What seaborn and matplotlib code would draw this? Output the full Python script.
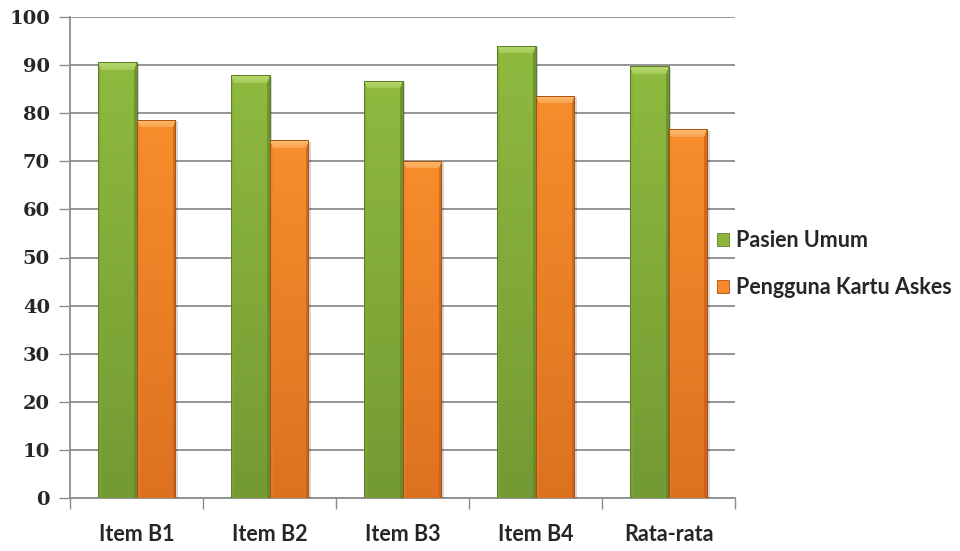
import numpy as np
import pandas as pd
import matplotlib
matplotlib.use("Agg")
import matplotlib.pyplot as plt
import seaborn as sns
from matplotlib.colors import to_rgb
from matplotlib.patches import Patch, Rectangle

categories = ["Item B1", "Item B2", "Item B3", "Item B4", "Rata-rata"]
series_names = ["Pasien Umum", "Pengguna Kartu Askes"]
pasien_umum = [90.6, 87.9, 86.7, 94.0, 89.8]
pengguna_askes = [78.6, 74.4, 70.1, 83.6, 76.7]
y_ticks = [0, 10, 20, 30, 40, 50, 60, 70, 80, 90, 100]

df = pd.DataFrame({
    "kategori": categories * 2,
    "seri": [series_names[0]] * len(categories) + [series_names[1]] * len(categories),
    "nilai": pasien_umum + pengguna_askes,
})

base_colors = {series_names[0]: "#8CB63C", series_names[1]: "#F68A2A"}
# face top, face bottom, top bevel, left bevel, right bevel, outline
styles = {
    series_names[0]: ["#8FBA3F", "#739A33", "#B8DB70", "#83AB39", "#62852A", "#5A7A26"],
    series_names[1]: ["#F88D2C", "#DC7220", "#FDBC72", "#EA7F25", "#C45F16", "#A9520F"],
}

sns.set_theme(style="white")
fig = plt.figure(figsize=(9.6, 5.51), dpi=100)
ax = fig.add_axes([70 / 960, 1 - 498 / 551, 665 / 960, 481 / 551])

sns.barplot(data=df, x="kategori", y="nilai", hue="seri", order=categories,
            hue_order=series_names, palette=base_colors, width=0.58,
            saturation=1, legend=False, ax=ax, zorder=3)

ax.set_ylim(0, 100)
ax.set_xlim(-0.5, len(categories) - 0.5)
ax.set_yticks(y_ticks)
ax.set_yticklabels([str(v) for v in y_ticks], fontfamily="DejaVu Serif",
                   fontweight="bold", fontsize=14)
ax.set_xlabel("")
ax.set_ylabel("")
ax.set_xticks(np.arange(-0.5, len(categories)), minor=False)
ax.set_xticklabels([])
ax.set_xticks(np.arange(len(categories)), minor=True)
ax.set_xticklabels(categories, minor=True, fontfamily="Lato",
                   fontweight="bold", fontsize=15.5)
ax.tick_params(axis="x", which="major", length=8, width=1, color="#8C8C8C",
               direction="out", bottom=True)
ax.tick_params(axis="x", which="minor", length=0, pad=19)
ax.tick_params(axis="y", length=8, width=1, color="#8C8C8C", direction="out",
               left=True, pad=6.5)

ax.yaxis.grid(True, color="#8C8C8C", linewidth=1.3, zorder=0)
ax.set_axisbelow(True)
for side in ["top", "right"]:
    ax.spines[side].set_visible(False)
for side in ["left", "bottom"]:
    ax.spines[side].set_color("#8C8C8C")
    ax.spines[side].set_linewidth(1.3)

px_per_x = 665 / len(categories)
px_per_y = 481 / 100


def bevel_image(name, wpx, hpx, top_b=8.0, side_b=3.0):
    c = [np.array(to_rgb(v)) for v in styles[name]]
    rows, cols = np.mgrid[0:hpx, 0:wpx] + 0.5
    dt = rows / top_b
    dl = cols / side_b
    dr = (wpx - cols) / side_b
    t = (rows / hpx)[..., None]
    img = c[0] * (1 - t) + c[1] * t
    top = (dt < 1) & (dt <= dl) & (dt <= dr)
    left = (dl < 1) & (dl < dt) & (dl <= dr)
    right = (dr < 1) & (dr < dt) & (dr < dl)
    fade = (rows / top_b)[..., None]
    top_col = c[2] * (1 - 0.5 * fade) + c[0] * (0.5 * fade)
    img = np.where(top[..., None], top_col, img)
    img = np.where(left[..., None], img * 0.5 + c[3] * 0.5, img)
    img = np.where(right[..., None], img * 0.3 + c[4] * 0.7, img)
    return np.clip(img, 0, 1)


bars = list(ax.patches)
n = len(categories)
for i, bar in enumerate(bars):
    name = series_names[0] if i < n else series_names[1]
    x0, y0 = bar.get_x(), bar.get_y()
    w, h = bar.get_width(), bar.get_height()
    # soft drop shadow to the lower right
    ax.add_patch(Rectangle((x0 + 2.5 / px_per_x, y0), w, h - 1.5 / px_per_y,
                           facecolor="#000000", alpha=0.16, edgecolor="none",
                           zorder=2.9, clip_on=False))
    wpx = max(int(round(w * px_per_x)), 4)
    hpx = max(int(round(h * px_per_y)), 4)
    img = bevel_image(name, wpx, hpx)
    im = ax.imshow(img, extent=[x0, x0 + w, y0, y0 + h], origin="upper",
                   aspect="auto", zorder=3.5, interpolation="nearest")
    im.set_clip_path(bar)
    bar.set_edgecolor(styles[name][5])
    bar.set_linewidth(0.7)
    bar.set_zorder(3.6)
    bar.set_facecolor("none")

ax.set_xlim(-0.5, len(categories) - 0.5)
ax.set_ylim(0, 100)

handles = [Patch(facecolor=base_colors[s], edgecolor=styles[s][5], linewidth=0.6)
           for s in series_names]
fig.legend(handles, series_names, loc="center left",
           bbox_to_anchor=(717 / 960, 1 - 264 / 551), frameon=False,
           prop={"family": "Lato", "weight": "bold", "size": 15.5},
           handlelength=0.57, handleheight=0.57, handletextpad=0.33,
           labelspacing=1.22, borderpad=0, borderaxespad=0)

fig.savefig("out.png", dpi=100, facecolor="white")
